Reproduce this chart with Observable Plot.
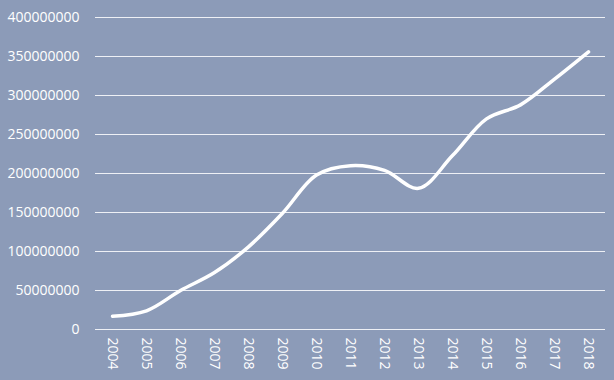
<!DOCTYPE html>
<html>
<head>
<meta charset="utf-8">
<script src="https://cdn.jsdelivr.net/npm/d3@7"></script>
<script src="https://cdn.jsdelivr.net/npm/@observablehq/plot@0.6"></script>
<style>
  html, body { margin: 0; padding: 0; background: #8C9BB8; }
  #chart { width: 614px; height: 380px; }
</style>
</head>
<body>
<div id="chart"></div>
<script>
const years = ["2004","2005","2006","2007","2008","2009","2010","2011","2012","2013","2014","2015","2016","2017","2018"];
const values = [17000000, 24000000, 50000000, 73000000, 106000000, 149000000, 198000000, 210000000, 204000000, 181000000, 223000000, 270000000, 288000000, 321000000, 356000000];
const yTicks = [0, 50000000, 100000000, 150000000, 200000000, 250000000, 300000000, 350000000, 400000000];

const data = years.map((y, i) => ({year: y, value: values[i]}));

const chart = Plot.plot({
  width: 614,
  height: 380,
  marginLeft: 95,
  marginRight: 9,
  marginTop: 17,
  marginBottom: 51,
  style: {background: "#8C9BB8", color: "#ffffff", fontFamily: "'Open Sans', sans-serif", fontSize: "14px"},
  x: {type: "point", domain: years, padding: 0.5, label: null, tickSize: 0, tickPadding: 8, tickRotate: 90},
  y: {domain: [0, 400000000], ticks: yTicks, tickFormat: d => String(d), label: null, tickSize: 0, tickPadding: 16},
  marks: [
    Plot.ruleY(yTicks, {stroke: "#ffffff", strokeOpacity: 0.85, strokeWidth: 1}),
    Plot.line(data, {x: "year", y: "value", curve: "catmull-rom", stroke: "#ffffff", strokeWidth: 3.5})
  ]
});
document.getElementById("chart").appendChild(chart);
</script>
</body>
</html>
